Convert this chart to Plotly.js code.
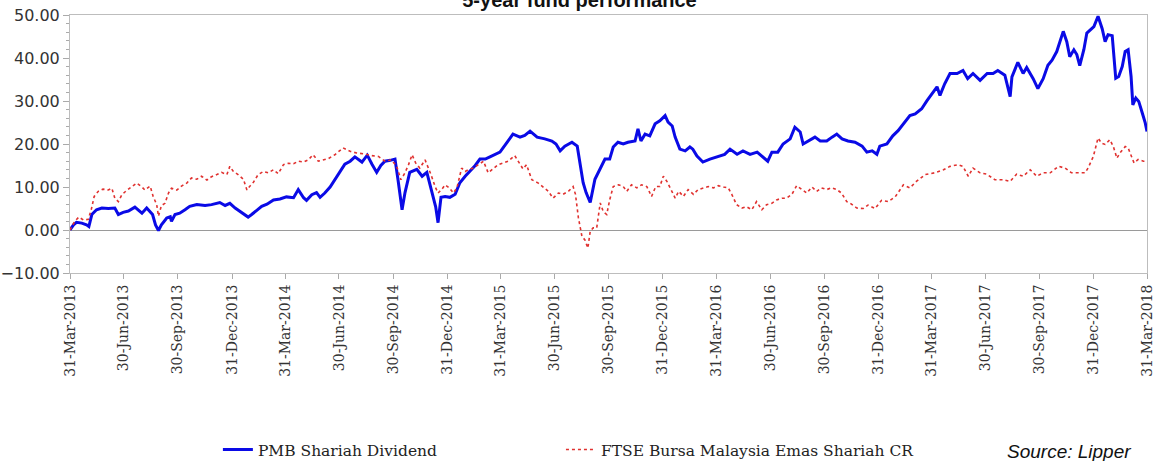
<!DOCTYPE html>
<html>
<head>
<meta charset="utf-8">
<script src="https://cdn.plot.ly/plotly-3.0.1.min.js"></script>
<style>
  html, body { margin: 0; padding: 0; background: #ffffff; }
  #chart { width: 1159px; height: 461px; }
</style>
</head>
<body>
<div id="chart"></div>
<script>
const chartTitle = "5-year fund performance";
const fundName = "PMB Shariah Dividend";
const indexName = "FTSE Bursa Malaysia Emas Shariah CR";
const sourceText = "Source: Lipper";

const fundDates = ["2013-03-31","2013-04-06","2013-04-11","2013-04-20","2013-04-28","2013-05-02","2013-05-07","2013-05-15","2013-05-24","2013-06-04","2013-06-15","2013-06-21","2013-06-29","2013-07-08","2013-07-19","2013-07-31","2013-08-08","2013-08-18","2013-08-23","2013-08-28","2013-09-02","2013-09-11","2013-09-17","2013-09-19","2013-09-25","2013-10-03","2013-10-12","2013-10-20","2013-11-01","2013-11-15","2013-11-26","2013-12-10","2013-12-19","2013-12-27","2014-01-05","2014-01-16","2014-01-27","2014-02-02","2014-02-11","2014-02-19","2014-02-28","2014-03-11","2014-03-22","2014-04-02","2014-04-14","2014-04-22","2014-05-01","2014-05-06","2014-05-15","2014-05-23","2014-05-29","2014-06-06","2014-06-15","2014-06-23","2014-07-02","2014-07-10","2014-07-19","2014-07-27","2014-08-08","2014-08-17","2014-08-25","2014-09-02","2014-09-09","2014-09-16","2014-09-25","2014-10-03","2014-10-08","2014-10-15","2014-10-20","2014-10-28","2014-11-09","2014-11-18","2014-11-26","2014-12-04","2014-12-11","2014-12-15","2014-12-20","2014-12-27","2015-01-04","2015-01-13","2015-01-21","2015-01-30","2015-02-07","2015-02-16","2015-02-24","2015-03-05","2015-03-13","2015-03-22","2015-03-30","2015-04-11","2015-04-21","2015-05-03","2015-05-11","2015-05-20","2015-06-01","2015-06-14","2015-06-26","2015-07-03","2015-07-10","2015-07-18","2015-07-30","2015-08-08","2015-08-13","2015-08-18","2015-08-23","2015-08-30","2015-09-07","2015-09-16","2015-09-24","2015-10-02","2015-10-08","2015-10-16","2015-10-25","2015-11-02","2015-11-14","2015-11-19","2015-11-24","2015-12-01","2015-12-09","2015-12-18","2015-12-26","2016-01-04","2016-01-09","2016-01-16","2016-01-21","2016-01-29","2016-02-07","2016-02-15","2016-02-20","2016-02-27","2016-03-08","2016-03-20","2016-04-01","2016-04-14","2016-04-23","2016-05-05","2016-05-15","2016-05-27","2016-06-08","2016-06-18","2016-06-26","2016-07-03","2016-07-13","2016-07-22","2016-08-03","2016-08-11","2016-08-20","2016-08-25","2016-09-02","2016-09-14","2016-09-23","2016-10-04","2016-10-13","2016-10-21","2016-10-30","2016-11-09","2016-11-21","2016-12-03","2016-12-11","2016-12-20","2016-12-28","2017-01-02","2017-01-14","2017-01-24","2017-02-02","2017-02-14","2017-02-22","2017-03-03","2017-03-14","2017-03-23","2017-03-31","2017-04-09","2017-04-14","2017-04-22","2017-05-01","2017-05-13","2017-05-23","2017-05-31","2017-06-09","2017-06-21","2017-07-03","2017-07-13","2017-07-21","2017-08-02","2017-08-11","2017-08-14","2017-08-24","2017-09-02","2017-09-08","2017-09-19","2017-09-27","2017-10-06","2017-10-14","2017-10-21","2017-10-29","2017-11-09","2017-11-15","2017-11-20","2017-11-27","2017-12-02","2017-12-07","2017-12-14","2017-12-19","2017-12-24","2017-12-31","2018-01-07","2018-01-14","2018-01-19","2018-01-24","2018-01-31","2018-02-06","2018-02-11","2018-02-17","2018-02-22","2018-02-27","2018-03-04","2018-03-07","2018-03-12","2018-03-17","2018-03-23","2018-03-28","2018-03-31"];
const fundValues = [0,1.2,1.8,1.6,1.2,0.8,3.6,4.7,5.1,5.0,5.1,3.6,4.1,4.4,5.3,3.9,5.1,3.6,1.2,-0.1,1.2,2.8,3.1,2.0,3.6,3.9,4.7,5.5,5.9,5.7,5.9,6.4,5.7,6.2,5.1,4.1,3.0,3.6,4.7,5.5,6.0,7.0,7.2,7.7,7.5,9.4,7.5,6.9,8.2,8.7,7.6,8.6,10.0,11.8,13.5,15.3,16.0,17.0,15.8,17.4,15.3,13.4,15.0,16.0,16.2,16.5,11.8,4.7,8.7,13.4,14.1,12.5,13.4,9.4,5.4,1.7,7.6,7.8,7.6,8.3,11.0,12.5,13.7,15.0,16.5,16.5,17.0,17.5,18.1,20.4,22.3,21.6,22.0,23.0,21.6,21.2,20.7,20.0,18.4,19.5,20.4,19.5,14.8,11.0,8.7,6.4,11.8,14.1,16.5,16.5,19.3,20.4,20.0,20.4,20.7,23.5,20.7,22.3,21.9,24.7,25.4,26.6,25.1,24.2,21.6,18.8,18.4,19.3,18.8,17.2,15.8,16.5,17.0,17.6,18.8,17.6,18.4,17.6,18.1,17.0,16.0,18.1,18.1,20.0,21.2,23.9,22.8,20.0,20.7,21.6,20.7,20.7,21.6,22.3,21.2,20.7,20.4,19.5,18.1,18.4,17.6,19.5,20.0,21.9,23.1,25.1,26.6,27.0,28.2,30.1,31.7,33.3,31.3,34.0,36.4,36.4,37.1,35.2,36.4,34.8,36.4,36.4,37.1,36.0,31.0,35.6,39.0,36.4,37.8,35.2,32.9,35.2,38.3,39.5,41.5,46.2,43.8,40.3,41.9,40.8,38.2,42.0,45.8,46.4,47.3,49.7,46.8,43.8,45.4,45.2,35.3,35.7,38.0,41.5,41.9,35.7,29.1,30.7,29.9,27.2,24.9,22.9];

const indexDates = ["2013-03-31","2013-04-08","2013-04-15","2013-04-23","2013-05-01","2013-05-06","2013-05-11","2013-05-18","2013-05-26","2013-06-04","2013-06-10","2013-06-15","2013-06-21","2013-06-27","2013-07-05","2013-07-14","2013-07-22","2013-07-31","2013-08-05","2013-08-14","2013-08-19","2013-08-25","2013-08-28","2013-09-02","2013-09-08","2013-09-14","2013-09-19","2013-09-28","2013-10-06","2013-10-15","2013-10-23","2013-11-01","2013-11-09","2013-11-18","2013-11-26","2013-12-05","2013-12-13","2013-12-22","2013-12-27","2014-01-02","2014-01-10","2014-01-19","2014-01-25","2014-01-30","2014-02-05","2014-02-13","2014-02-22","2014-03-02","2014-03-11","2014-03-19","2014-03-28","2014-04-05","2014-04-14","2014-04-22","2014-05-01","2014-05-09","2014-05-17","2014-05-26","2014-06-03","2014-06-12","2014-06-23","2014-07-07","2014-07-19","2014-07-30","2014-08-13","2014-08-24","2014-09-05","2014-09-16","2014-09-27","2014-10-06","2014-10-13","2014-10-20","2014-10-26","2014-11-01","2014-11-07","2014-11-14","2014-11-23","2014-11-29","2014-12-03","2014-12-10","2014-12-15","2014-12-21","2014-12-27","2015-01-03","2015-01-10","2015-01-16","2015-01-24","2015-01-30","2015-02-04","2015-02-13","2015-02-21","2015-03-02","2015-03-10","2015-03-19","2015-03-27","2015-04-05","2015-04-13","2015-04-24","2015-04-30","2015-05-08","2015-05-14","2015-05-23","2015-06-03","2015-06-11","2015-06-20","2015-06-28","2015-07-07","2015-07-15","2015-07-24","2015-08-01","2015-08-05","2015-08-10","2015-08-16","2015-08-21","2015-08-26","2015-08-30","2015-09-04","2015-09-10","2015-09-16","2015-09-21","2015-09-27","2015-10-02","2015-10-08","2015-10-17","2015-10-25","2015-10-31","2015-11-08","2015-11-17","2015-11-25","2015-12-04","2015-12-12","2015-12-19","2015-12-26","2016-01-01","2016-01-07","2016-01-14","2016-01-21","2016-01-27","2016-02-04","2016-02-12","2016-02-21","2016-02-29","2016-03-09","2016-03-17","2016-03-26","2016-04-03","2016-04-12","2016-04-20","2016-04-26","2016-05-04","2016-05-13","2016-05-21","2016-05-30","2016-06-07","2016-06-16","2016-06-24","2016-07-03","2016-07-11","2016-07-20","2016-07-28","2016-08-06","2016-08-14","2016-08-23","2016-08-31","2016-09-09","2016-09-17","2016-09-25","2016-10-04","2016-10-12","2016-10-21","2016-10-29","2016-11-07","2016-11-12","2016-11-24","2016-12-05","2016-12-13","2016-12-25","2017-01-05","2017-01-16","2017-01-28","2017-02-11","2017-02-22","2017-03-05","2017-03-20","2017-04-05","2017-04-20","2017-05-01","2017-05-15","2017-05-23","2017-06-01","2017-06-09","2017-06-21","2017-07-02","2017-07-16","2017-07-30","2017-08-11","2017-08-22","2017-09-02","2017-09-14","2017-09-25","2017-10-06","2017-10-18","2017-11-01","2017-11-12","2017-11-23","2017-12-05","2017-12-16","2017-12-21","2017-12-30","2018-01-07","2018-01-13","2018-01-19","2018-01-27","2018-02-02","2018-02-08","2018-02-13","2018-02-22","2018-02-27","2018-03-05","2018-03-09","2018-03-16","2018-03-25","2018-03-31"];
const indexValues = [0,2.0,3.0,2.3,2.5,4.7,7.8,9.0,9.5,9.3,9.7,7.4,6.6,8.2,9.2,10.0,10.9,10.0,9.3,10.2,7.8,5.9,3.2,5.7,6.2,8.6,9.7,9.3,10.2,10.9,12.1,11.8,12.5,11.6,12.4,12.9,13.4,12.9,14.8,13.6,12.9,11.8,9.3,10.2,11.1,12.9,13.6,13.3,14.0,13.1,15.2,15.5,15.4,16.0,15.8,16.3,17.5,16.0,16.3,16.6,17.5,19.1,18.3,17.9,17.7,17.3,17.1,16.0,16.3,14.8,11.7,13.3,15.2,17.5,15.6,14.4,16.3,14.4,12.9,10.1,8.6,9.4,10.5,9.8,8.6,9.8,14.4,13.6,14.0,14.4,15.2,16.0,13.3,14.4,15.2,15.6,16.0,17.3,16.0,14.2,15.2,11.7,10.9,10.1,9.0,7.4,8.6,8.3,9.0,10.1,8.3,2.8,-1.5,-2.3,-4.2,-0.3,0.5,0.5,6.3,4.3,3.6,7.0,10.1,10.5,10.1,9.0,10.5,9.8,10.5,10.1,7.8,10.1,10.1,12.5,11.3,9.4,7.4,9.0,7.8,9.4,8.3,9.4,9.8,10.1,9.8,10.3,10.0,9.8,8.3,5.9,5.1,5.4,4.7,6.6,4.7,5.9,6.2,7.0,7.4,7.4,8.3,10.3,9.4,8.6,10.0,9.0,9.8,9.4,9.8,9.4,8.6,6.6,6.3,5.1,5.0,5.8,5.0,6.9,6.6,7.7,10.5,9.8,11.3,12.9,13.3,14.0,14.8,15.2,14.8,12.5,14.4,13.3,13.0,11.7,11.7,11.3,13.0,12.5,14.0,12.5,13.3,13.3,14.8,14.4,13.3,13.3,13.3,14.4,17.1,21.4,20.2,19.9,21.0,19.4,16.7,17.9,19.4,19.1,16.9,15.6,16.4,16.0,16.0];

const tickDates = ["2013-03-31","2013-06-30","2013-09-30","2013-12-31","2014-03-31","2014-06-30","2014-09-30","2014-12-31","2015-03-31","2015-06-30","2015-09-30","2015-12-31","2016-03-31","2016-06-30","2016-09-30","2016-12-31","2017-03-31","2017-06-30","2017-09-30","2017-12-31","2018-03-31"];
const tickLabels = ["31-Mar-2013","30-Jun-2013","30-Sep-2013","31-Dec-2013","31-Mar-2014","30-Jun-2014","30-Sep-2014","31-Dec-2014","31-Mar-2015","30-Jun-2015","30-Sep-2015","31-Dec-2015","31-Mar-2016","30-Jun-2016","30-Sep-2016","31-Dec-2016","31-Mar-2017","30-Jun-2017","30-Sep-2017","31-Dec-2017","31-Mar-2018"];
const yTicks = [-10, 0, 10, 20, 30, 40, 50];

const traces = [
  {
    type: "scatter", mode: "lines", name: fundName,
    x: fundDates, y: fundValues,
    line: { color: "#0a0ae6", width: 3 },
    legend: "legend",
    hoverinfo: "skip"
  },
  {
    type: "scatter", mode: "lines", name: indexName,
    x: indexDates, y: indexValues,
    line: { color: "#e0312f", width: 1.6, dash: "dot" },
    legend: "legend2",
    hoverinfo: "skip"
  }
];

const legendFont = { family: "DejaVu Serif, serif", size: 15.5, color: "#222" };

const layout = {
  width: 1159, height: 461,
  paper_bgcolor: "#ffffff", plot_bgcolor: "#ffffff",
  margin: { l: 70, r: 12, t: 15, b: 188 },
  title: {
    text: "<b>" + chartTitle + "</b>",
    font: { family: "Liberation Sans, Arial, sans-serif", size: 20, color: "#111" },
    xref: "container", x: 0.5, xanchor: "center",
    yref: "container", y: 1.0, yanchor: "middle"
  },
  xaxis: {
    type: "date",
    range: ["2013-03-31", "2018-03-31"],
    tickmode: "array", tickvals: tickDates, ticktext: tickLabels,
    tickangle: -90,
    tickfont: { family: "DejaVu Serif, serif", size: 14, color: "#333" },
    ticks: "outside", ticklen: 5, tickcolor: "#aaa",
    showline: true, linecolor: "#bdbdbd", linewidth: 1, mirror: true,
    showgrid: false, zeroline: false
  },
  yaxis: {
    range: [-10, 50],
    tickmode: "array", tickvals: yTicks,
    tickformat: ".2f",
    tickfont: { family: "DejaVu Sans, Verdana, sans-serif", size: 16, color: "#333" },
    ticks: "outside", ticklen: 6, tickcolor: "#aaa",
    minor: { ticks: "outside", dtick: 2, ticklen: 3, tickcolor: "#aaa" },
    showline: true, linecolor: "#bdbdbd", linewidth: 1, mirror: true,
    showgrid: false,
    zeroline: true, zerolinecolor: "#9a9a9a", zerolinewidth: 1
  },
  showlegend: true,
  legend: {
    orientation: "h",
    xref: "container", yref: "container",
    x: 0.188, xanchor: "left",
    y: 0.024, yanchor: "middle",
    font: legendFont,
    bgcolor: "rgba(0,0,0,0)"
  },
  legend2: {
    orientation: "h",
    xref: "container", yref: "container",
    x: 0.484, xanchor: "left",
    y: 0.024, yanchor: "middle",
    font: legendFont,
    bgcolor: "rgba(0,0,0,0)"
  },
  annotations: [
    {
      text: "<i>" + sourceText + "</i>",
      xref: "paper", yref: "paper",
      x: 1, xanchor: "right", xshift: -14,
      y: 0, yanchor: "middle", yshift: -178,
      showarrow: false,
      font: { family: "Liberation Sans, Arial, sans-serif", size: 19, color: "#111" }
    }
  ]
};

Plotly.newPlot("chart", traces, layout, { displayModeBar: false, staticPlot: true });
</script>
</body>
</html>
